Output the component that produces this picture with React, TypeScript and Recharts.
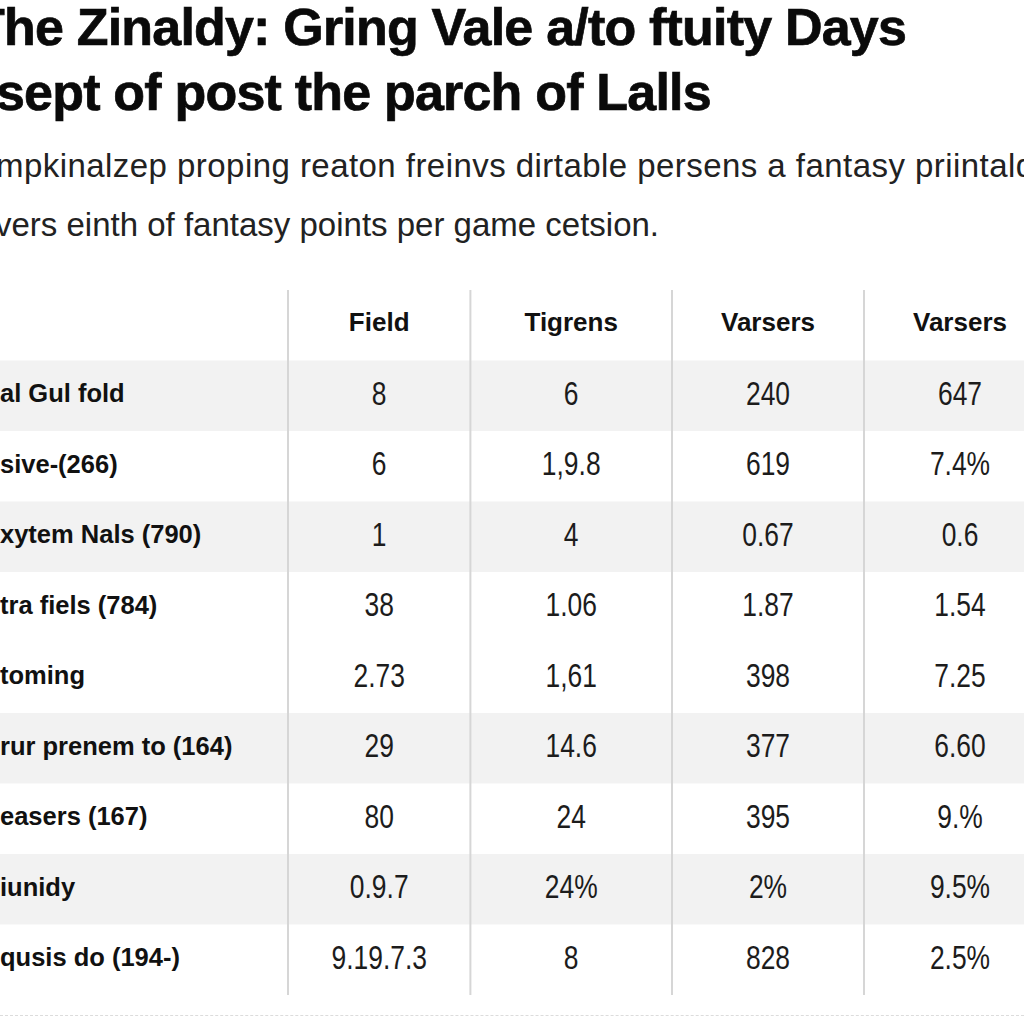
import { BarChart, Bar, XAxis, YAxis, LabelList, ReferenceLine } from "recharts";

const titleLines = [
  "The Zinaldy: Gring Vale a/to ftuity Days",
  "sept of post the parch of Lalls",
];
const subtitleLines = [
  "mpkinalzep proping reaton freinvs dirtable persens a fantasy priintald",
  "vers einth of fantasy points per game cetsion.",
];

const columns = ["Field", "Tigrens", "Varsers", "Varsers"];
const rowLabels = [
  "al Gul fold",
  "sive-(266)",
  "xytem Nals (790)",
  "tra fiels (784)",
  "toming",
  "rur prenem to (164)",
  "easers (167)",
  "iunidy",
  "qusis do (194-)",
];
const field = ["8", "6", "1", "38", "2.73", "29", "80", "0.9.7", "9.19.7.3"];
const tigrens = ["6", "1,9.8", "4", "1.06", "1,61", "14.6", "24", "24%", "8"];
const varsersA = ["240", "619", "0.67", "1.87", "398", "377", "395", "2%", "828"];
const varsersB = ["647", "7.4%", "0.6", "1.54", "7.25", "6.60", "9.%", "9.5%", "2.5%"];

const rows = [
  { label: "", c0: columns[0], c1: columns[1], c2: columns[2], c3: columns[3] },
  ...rowLabels.map((label, i) => ({
    label,
    c0: field[i],
    c1: tigrens[i],
    c2: varsersA[i],
    c3: varsersB[i],
  })),
];

const striped = [1, 3, 6, 8];
const SANS = "'Liberation Sans', Arial, sans-serif";

function box(p: any) {
  const vb = p.viewBox || p;
  return { x: vb.x ?? p.x, y: vb.y ?? p.y, w: vb.width ?? p.width, h: vb.height ?? p.height };
}

const rowLabel = (p: any) => {
  const { x, y, h } = box(p);
  return (
    <text x={x} y={y + h / 2 - 3} dominantBaseline="central" fontFamily={SANS} fontWeight={700} fontSize={25.5} fill="#111">
      {p.value}
    </text>
  );
};

const cell = (p: any) => {
  const { x, y, w, h } = box(p);
  const header = p.index === 0;
  const cx = x + w / 2;
  const cy = y + h / 2 + (header ? -4 : -3);
  if (header) {
    return (
      <text x={cx} y={cy} textAnchor="middle" dominantBaseline="central" fontFamily={SANS} fontWeight={700} fontSize={26} fill="#111">
        {p.value}
      </text>
    );
  }
  // condensed digits, like the reference
  return (
    <text
      transform={`translate(${cx},${cy}) scale(0.8,1)`}
      x={0}
      y={0}
      textAnchor="middle"
      dominantBaseline="central"
      fontFamily={SANS}
      fontSize={33}
      fill="#1c1c1c"
    >
      {p.value}
    </text>
  );
};

const stripe = (p: any) => (
  <rect x={p.x} y={p.y} width={p.width} height={p.height} fill={striped.includes(p.index) ? "#f2f2f2" : "#ffffff"} />
);

const titleStyle = {
  position: "absolute" as const,
  fontFamily: SANS,
  fontWeight: 700,
  fontSize: 52,
  lineHeight: "52px",
  letterSpacing: -0.8,
  whiteSpace: "nowrap" as const,
  color: "#0a0a0a",
  WebkitTextStroke: "0.7px #0a0a0a",
};

const subStyle = {
  position: "absolute" as const,
  fontFamily: SANS,
  fontSize: 33,
  lineHeight: "33px",
  whiteSpace: "nowrap" as const,
  color: "#222",
};

export default function App() {
  return (
    <div style={{ position: "absolute", left: 0, top: 0, width: 1024, height: 1024, overflow: "hidden", background: "#fff" }}>
      <div style={{ ...titleStyle, left: -27, top: 1 }}>{titleLines[0]}</div>
      <div style={{ ...titleStyle, left: -4, top: 66 }}>{titleLines[1]}</div>
      <div style={{ ...subStyle, left: -4, top: 149, letterSpacing: 0.45 }}>{subtitleLines[0]}</div>
      <div style={{ ...subStyle, left: -5, top: 208 }}>{subtitleLines[1]}</div>
      <div style={{ position: "absolute", left: 0, top: 290 }}>
        <BarChart
          layout="vertical"
          width={1056}
          height={705}
          data={rows}
          margin={{ top: 0, right: 0, bottom: 0, left: 0 }}
          barCategoryGap={0}
        >
          <XAxis type="number" domain={[0, 5.5]} hide />
          <YAxis type="category" dataKey="label" hide />
          <Bar dataKey={() => 1.5} stackId="t" fill="none" background={stripe} isAnimationActive={false}>
            <LabelList dataKey="label" content={rowLabel} />
          </Bar>
          <Bar dataKey={() => 0.95} stackId="t" fill="none" isAnimationActive={false}>
            <LabelList dataKey="c0" content={cell} />
          </Bar>
          <Bar dataKey={() => 1.05} stackId="t" fill="none" isAnimationActive={false}>
            <LabelList dataKey="c1" content={cell} />
          </Bar>
          <Bar dataKey={() => 1} stackId="t" fill="none" isAnimationActive={false}>
            <LabelList dataKey="c2" content={cell} />
          </Bar>
          <Bar dataKey={() => 1} stackId="t" fill="none" isAnimationActive={false}>
            <LabelList dataKey="c3" content={cell} />
          </Bar>
          {[1.5, 2.45, 3.5, 4.5].map((x) => (
            <ReferenceLine key={x} x={x} stroke="#d6d6d6" strokeWidth={2} />
          ))}
        </BarChart>
      </div>
      <div style={{ position: "absolute", left: 0, top: 1015, width: 1024, borderTop: "1px dashed #dcdcdc" }} />
    </div>
  );
}
